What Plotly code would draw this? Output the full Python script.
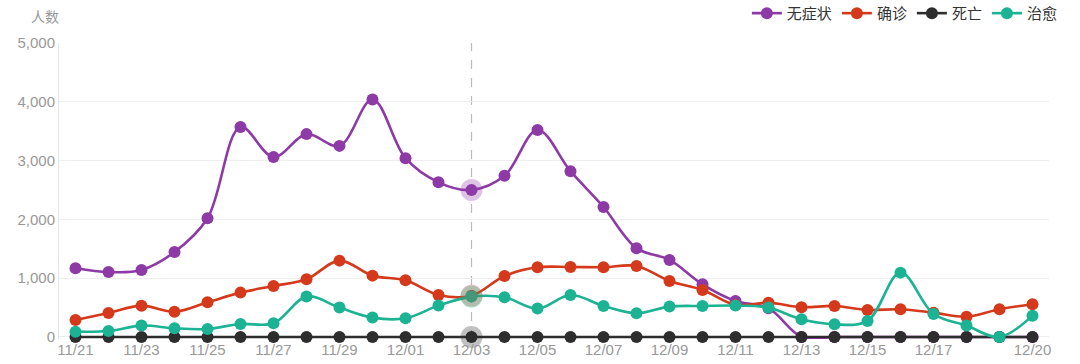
import plotly.graph_objects as go

dates = ["11/21","11/22","11/23","11/24","11/25","11/26","11/27","11/28","11/29","11/30",
         "12/01","12/02","12/03","12/04","12/05","12/06","12/07","12/08","12/09","12/10",
         "12/11","12/12","12/13","12/14","12/15","12/16","12/17","12/18","12/19","12/20"]
tick_labels = ["11/21","11/23","11/25","11/27","11/29","12/01","12/03","12/05","12/07",
               "12/09","12/11","12/13","12/15","12/17","12/20"]

asymptomatic = [1170, 1105, 1140, 1445, 2020, 3570, 3060, 3450, 3250, 4040,
                3040, 2630, 2500, 2740, 3520, 2820, 2210, 1510, 1310, 895,
                612, 490, 0, 0, 0, 0, 0, 0, 0, 0]
confirmed = [289, 408, 532, 430, 590, 754, 867, 981, 1298, 1043,
             964, 714, 700, 1037, 1185, 1190, 1185, 1207, 952, 799,
             544, 583, 505, 527, 459, 471, 413, 345, 471, 556]
deaths = [0] * 30
cured = [90, 100, 193, 147, 136, 221, 232, 686, 499, 329,
         317, 533, 686, 674, 482, 714, 527, 402, 516, 527,
         533, 499, 300, 215, 272, 1094, 391, 193, 0, 362]

series = [("无症状", asymptomatic, "#8e3aa6"),
          ("确诊", confirmed, "#d5391b"),
          ("死亡", deaths, "#2d2d2d"),
          ("治愈", cured, "#1bb394")]
hover_idx = dates.index("12/03")

fig = go.Figure()
for name, vals, col in series:
    fig.add_trace(go.Scatter(
        x=dates, y=vals, name=name, mode="lines+markers",
        line=dict(color=col, width=2.6, shape="spline", smoothing=1.0),
        marker=dict(size=12, color=col), cliponaxis=False))
for name, vals, col in series:
    fig.add_trace(go.Scatter(
        x=[dates[hover_idx]], y=[vals[hover_idx]], mode="markers",
        marker=dict(size=22, color=col, opacity=0.3),
        showlegend=False, hoverinfo="skip", cliponaxis=False))

fig.add_shape(type="line", x0=dates[hover_idx], x1=dates[hover_idx], xref="x",
              y0=0, y1=1, yref="paper", line=dict(color="#bbbbbb", width=1.2, dash="dash"),
              layer="below")

fig.add_annotation(text="人数", x=-0.014, y=1.0, xref="paper", yref="paper",
                   xanchor="center", yanchor="bottom", yshift=15, showarrow=False,
                   font=dict(size=14, color="#999999"))

fig.update_layout(
    width=1080, height=364,
    margin=dict(l=59, r=31, t=43, b=25, autoexpand=False),
    paper_bgcolor="white", plot_bgcolor="white",
    font=dict(family="Noto Sans, Noto Sans CJK SC, sans-serif", color="#999999", size=14),
    legend=dict(orientation="h", x=1.014, xanchor="right", y=1.1, yanchor="middle",
                font=dict(size=15, color="#333333"), itemwidth=30,
                bgcolor="rgba(0,0,0,0)"),
    xaxis=dict(type="category", categoryorder="array", categoryarray=dates,
               range=[-0.5, 29.5], tickmode="array",
               tickvals=tick_labels, ticktext=tick_labels, showgrid=False,
               showline=False, zeroline=False, ticks="",
               tickfont=dict(family="Liberation Sans, Arial, sans-serif", size=15, color="#999999")),
    yaxis=dict(range=[-35, 5000], tickvals=[0, 1000, 2000, 3000, 4000, 5000],
               tickformat=",", showgrid=True, gridcolor="#eeeeee", gridwidth=1,
               zeroline=False, showline=True, linecolor="#e6e6e6", linewidth=1,
               ticks="", tickfont=dict(family="Liberation Sans, Arial, sans-serif", size=15, color="#999999")),
    hovermode=False,
)

fig.write_html("out.html", config={"displayModeBar": False},
               post_script="document.body.style.margin='0';document.body.style.overflow='hidden';")
